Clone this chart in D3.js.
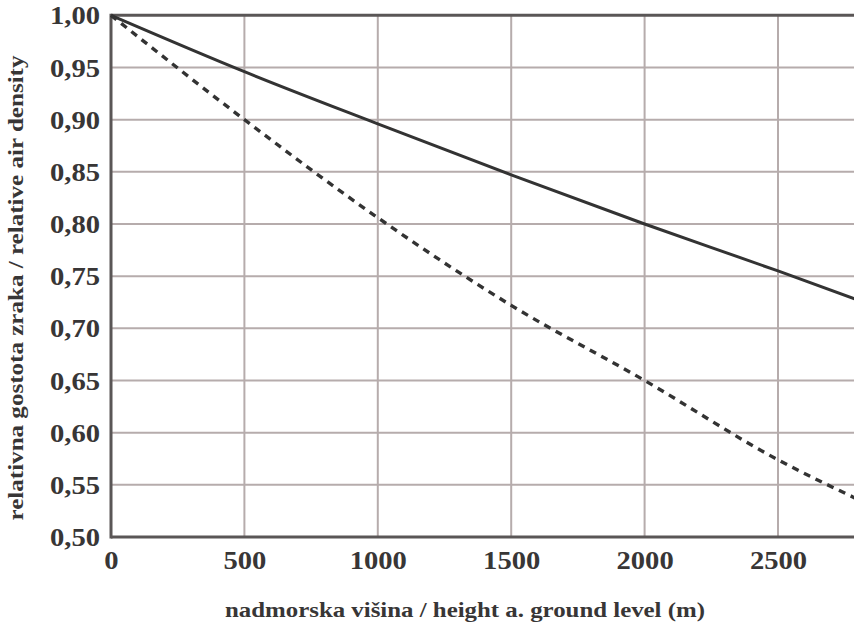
<!DOCTYPE html>
<html>
<head>
<meta charset="utf-8">
<script src="https://cdn.jsdelivr.net/npm/d3@7"></script>
<style>
  html, body { margin: 0; padding: 0; background: #fff; }
  svg { display: block; }
  text { font-family: "Liberation Serif", "Times New Roman", Times, serif; font-weight: bold; fill: #383636; }
</style>
</head>
<body>
<svg id="chart" width="854" height="626"></svg>
<script>
// Height above ground (m) and relative air density
const solidHeights = [0, 500, 1000, 1500, 2000, 2500, 2800];
const solidDensity = [1.000, 0.946, 0.896, 0.847, 0.800, 0.755, 0.727];

const dashedHeights = [0, 500, 1000, 1500, 2000, 2500, 2800];
const dashedDensity = [1.000, 0.900, 0.806, 0.722, 0.650, 0.574, 0.536];

const xTicks = [0, 500, 1000, 1500, 2000, 2500];
const yTicks = [0.50, 0.55, 0.60, 0.65, 0.70, 0.75, 0.80, 0.85, 0.90, 0.95, 1.00];

const xTitle = "nadmorska višina / height a. ground level (m)";
const yTitle = "relativna gostota zraka / relative air density";

const svg = d3.select("#chart");
const plotLeft = 111, plotTop = 15.3, plotBottom = 537;

const x = d3.scaleLinear().domain([0, 2800]).range([plotLeft, plotLeft + 2800 * (667 / 2500)]);
const y = d3.scaleLinear().domain([0.5, 1.0]).range([plotBottom, plotTop]);

const fmt = v => d3.format(".2f")(v).replace(".", ",");

// grid
const grid = svg.append("g").attr("stroke", "#b6acac").attr("stroke-width", 2);
grid.selectAll("line.h").data(yTicks.filter(v => v > 0.5 && v < 1)).join("line")
  .attr("class", "h")
  .attr("x1", plotLeft).attr("x2", 860).attr("y1", d => y(d)).attr("y2", d => y(d));
grid.selectAll("line.v").data(xTicks.filter(v => v > 0)).join("line")
  .attr("class", "v")
  .attr("y1", plotTop).attr("y2", plotBottom).attr("x1", d => x(d)).attr("x2", d => x(d));

// frame
const frame = svg.append("g").attr("stroke", "#5a5656").attr("stroke-width", 3).attr("fill", "none");
frame.append("line").attr("x1", plotLeft).attr("x2", 860).attr("y1", y(1)).attr("y2", y(1));
frame.append("line").attr("x1", plotLeft).attr("x2", 860).attr("y1", y(0.5)).attr("y2", y(0.5));
frame.append("line").attr("x1", plotLeft).attr("x2", plotLeft).attr("y1", y(1) - 1.5).attr("y2", y(0.5) + 1.5);

// axes (tick labels only, glyphs slightly widened)
const yAxis = d3.axisLeft(y).tickValues(yTicks).tickFormat(fmt).tickSize(0).tickPadding(10);
const yg = svg.append("g").attr("transform", `translate(${plotLeft},0)`).call(yAxis);
yg.select(".domain").remove();
yg.attr("font-family", null).attr("font-size", null);
yg.selectAll("text").attr("font-size", 26).attr("dy", "0.33em").attr("fill", null)
  .attr("transform", "scale(1.1,1)");

const xAxis = d3.axisBottom(x).tickValues(xTicks).tickFormat(d3.format("d")).tickSize(0).tickPadding(14);
const xg = svg.append("g").attr("transform", `translate(0,${plotBottom})`).call(xAxis);
xg.select(".domain").remove();
xg.attr("font-family", null).attr("font-size", null);
xg.selectAll("text").attr("font-size", 26).attr("dy", "0.71em").attr("fill", null)
  .attr("transform", "scale(1.1,1)");

// curves
const line = d3.line().x(d => x(d[0])).y(d => y(d[1])).curve(d3.curveMonotoneX);
svg.append("path")
  .datum(solidHeights.map((h, i) => [h, solidDensity[i]]))
  .attr("d", line).attr("fill", "none").attr("stroke", "#333").attr("stroke-width", 3);
svg.append("path")
  .datum(dashedHeights.map((h, i) => [h, dashedDensity[i]]))
  .attr("d", line).attr("fill", "none").attr("stroke", "#333").attr("stroke-width", 3.4)
  .attr("stroke-dasharray", "7,6");

// titles
svg.append("text").attr("x", 465).attr("y", 617).attr("text-anchor", "middle")
  .attr("font-size", 22).attr("textLength", 480).attr("lengthAdjust", "spacingAndGlyphs").text(xTitle);
svg.append("text").attr("transform", "translate(23,288) rotate(-90)").attr("text-anchor", "middle")
  .attr("font-size", 21).attr("textLength", 465).attr("lengthAdjust", "spacingAndGlyphs").text(yTitle);
</script>
</body>
</html>
